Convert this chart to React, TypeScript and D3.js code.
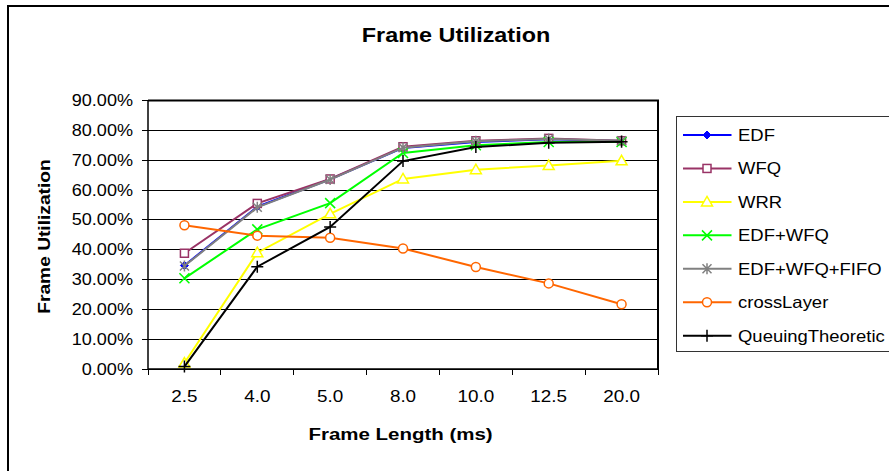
import React from 'react';
import * as d3 from 'd3';

const categories = ['2.5', '4.0', '5.0', '8.0', '10.0', '12.5', '20.0'];
const yTicks = [0, 0.1, 0.2, 0.3, 0.4, 0.5, 0.6, 0.7, 0.8, 0.9];

const edf = [0.347, 0.544, 0.636, 0.741, 0.761, 0.770, 0.764];
const wfq = [0.388, 0.555, 0.637, 0.745, 0.765, 0.773, 0.765];
const wrr = [0.02, 0.39, 0.52, 0.637, 0.668, 0.682, 0.698];
const edfWfq = [0.304, 0.468, 0.556, 0.724, 0.750, 0.761, 0.761];
const edfWfqFifo = [0.345, 0.542, 0.635, 0.742, 0.763, 0.771, 0.765];
const crossLayer = [0.482, 0.447, 0.440, 0.404, 0.342, 0.287, 0.217];
const queuing = [0.008, 0.343, 0.476, 0.697, 0.744, 0.758, 0.762];

const seriesNames = ['EDF', 'WFQ', 'WRR', 'EDF+WFQ', 'EDF+WFQ+FIFO', 'crossLayer', 'QueuingTheoretic'];
const seriesValues = [edf, wfq, wrr, edfWfq, edfWfqFifo, crossLayer, queuing];
const seriesColors = ['#0000FF', '#993366', '#FFFF00', '#00FF00', '#808080', '#FF6600', '#000000'];
const seriesMarkers = ['diamond', 'square', 'triangle', 'x', 'asterisk', 'circle', 'plus'];

const W = 889;
const H = 471;
const plot = { left: 148, right: 658, top: 100.5, bottom: 369 };

const FONT = 'Arial, "Liberation Sans", sans-serif';

function Marker({ type, x, y, color }: { type: string; x: number; y: number; color: string }) {
  const sw = 1.5;
  switch (type) {
    case 'diamond':
      return <path d={`M${x},${y - 4}L${x + 4},${y}L${x},${y + 4}L${x - 4},${y}Z`} fill={color} stroke={color} strokeWidth={1} />;
    case 'square':
      return <rect x={x - 4} y={y - 4} width={8} height={8} fill="white" stroke={color} strokeWidth={sw} />;
    case 'triangle':
      return <path d={`M${x},${y - 5.5}L${x + 5.5},${y + 4}L${x - 5.5},${y + 4}Z`} fill="white" stroke={color} strokeWidth={sw} />;
    case 'x':
      return <path d={`M${x - 5},${y - 5}L${x + 5},${y + 5}M${x - 5},${y + 5}L${x + 5},${y - 5}`} fill="none" stroke={color} strokeWidth={sw} />;
    case 'asterisk':
      return <path d={`M${x - 4.5},${y - 4.5}L${x + 4.5},${y + 4.5}M${x - 4.5},${y + 4.5}L${x + 4.5},${y - 4.5}M${x},${y - 5.5}L${x},${y + 5.5}`} fill="none" stroke={color} strokeWidth={sw} />;
    case 'circle':
      return <circle cx={x} cy={y} r={4.5} fill="white" stroke={color} strokeWidth={sw} />;
    case 'plus':
      return <path d={`M${x - 6},${y}L${x + 6},${y}M${x},${y - 6}L${x},${y + 6}`} fill="none" stroke={color} strokeWidth={sw} />;
    default:
      return null;
  }
}

function SText({ x, y, sx, anchor, size, weight, children, rotate }: any) {
  const tr = `translate(${x},${y})${rotate ? ` rotate(${rotate})` : ''} scale(${sx},1)`;
  return (
    <text transform={tr} textAnchor={anchor || 'start'} fontSize={size} fontWeight={weight || 'normal'} fontFamily={FONT} fill="#000">
      {children}
    </text>
  );
}

export default function App() {
  const x = d3.scalePoint<string>().domain(categories).range([plot.left, plot.right]).padding(0.5);
  const y = d3.scaleLinear().domain([0, 0.9]).range([plot.bottom, plot.top]);
  const step = x.step();
  const line = d3
    .line<number>()
    .x((_, i) => x(categories[i]) as number)
    .y((d) => y(d));

  const boundaries = d3.range(categories.length + 1).map((i) => plot.left + i * step);

  const legendX = 676.5;
  const legendY = 116.5;
  const legendStep = 33.45;

  return (
    <svg width={W} height={H} style={{ position: 'absolute', left: 0, top: 0, background: 'white' }}>
      <rect x={0} y={0} width={W} height={H} fill="white" />
      {/* chart outer border */}
      <path d={`M8,${H + 5}L8,6L${W + 5},6`} fill="none" stroke="#000" strokeWidth={2} />

      {/* title */}
      <SText x={456} y={41.5} sx={1.17} anchor="middle" size={20} weight="bold">
        Frame Utilization
      </SText>

      {/* gridlines */}
      {yTicks.map((t) => (
        <line key={'g' + t} x1={plot.left} x2={plot.right} y1={y(t)} y2={y(t)} stroke="#000" strokeWidth={1} shapeRendering="crispEdges" />
      ))}
      {/* plot border top/right */}
      <path d={`M${plot.left},${plot.top}L${plot.right},${plot.top}L${plot.right},${plot.bottom}`} fill="none" stroke="#000" strokeWidth={2} />
      {/* axes */}
      <line x1={plot.left} x2={plot.left} y1={plot.top} y2={plot.bottom} stroke="#000" strokeWidth={1.5} />
      <line x1={plot.left} x2={plot.right} y1={plot.bottom} y2={plot.bottom} stroke="#000" strokeWidth={1.5} />

      {/* y ticks */}
      {yTicks.map((t) => (
        <g key={'yt' + t}>
          <line x1={plot.left - 6} x2={plot.left} y1={y(t)} y2={y(t)} stroke="#000" strokeWidth={1} shapeRendering="crispEdges" />
          <SText x={133} y={y(t) + 5.5} sx={1.13} anchor="end" size={16}>
            {(t * 100).toFixed(2) + '%'}
          </SText>
        </g>
      ))}

      {/* x ticks */}
      {boundaries.map((b, i) => (
        <line key={'xt' + i} x1={b} x2={b} y1={plot.bottom} y2={plot.bottom + 6} stroke="#000" strokeWidth={1} shapeRendering="crispEdges" />
      ))}
      {categories.map((c) => (
        <SText key={'xl' + c} x={x(c)} y={402} sx={1.18} anchor="middle" size={16}>
          {c}
        </SText>
      ))}

      {/* axis titles */}
      <SText x={400.5} y={440} sx={1.28} anchor="middle" size={16} weight="bold">
        Frame Length (ms)
      </SText>
      <SText x={50} y={236.5} sx={1.2} anchor="middle" size={16} weight="bold" rotate={-90}>
        Frame Utilization
      </SText>

      {/* series */}
      {seriesValues.map((vals, si) => (
        <g key={'s' + si}>
          <path d={line(vals) || ''} fill="none" stroke={seriesColors[si]} strokeWidth={2} />
          {vals.map((v, i) => (
            <Marker key={i} type={seriesMarkers[si]} x={x(categories[i]) as number} y={y(v)} color={seriesColors[si]} />
          ))}
        </g>
      ))}

      {/* legend */}
      <rect x={legendX} y={legendY} width={240} height={235} fill="white" stroke="#333" strokeWidth={1} />
      {seriesNames.map((n, i) => {
        const cy = 135 + i * legendStep;
        return (
          <g key={'l' + n}>
            <line x1={683} x2={731.5} y1={cy} y2={cy} stroke={seriesColors[i]} strokeWidth={2} />
            <Marker type={seriesMarkers[i]} x={707} y={cy} color={seriesColors[i]} />
            <SText x={738} y={cy + 6} sx={1.12} anchor="start" size={16.5}>
              {n}
            </SText>
          </g>
        );
      })}
    </svg>
  );
}
